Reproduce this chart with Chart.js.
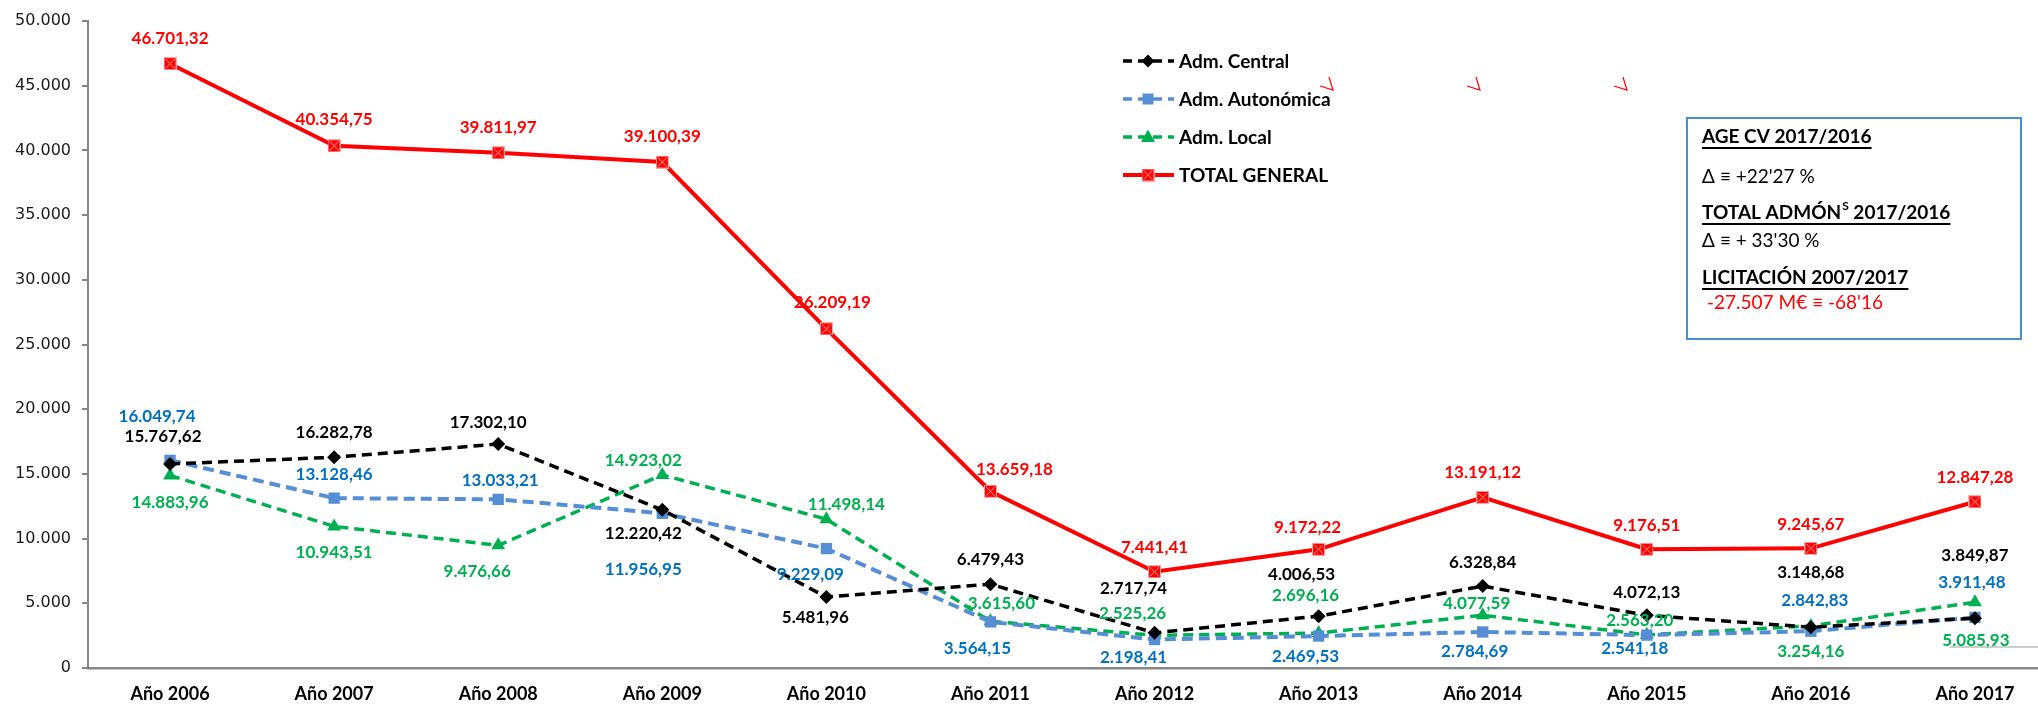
<!DOCTYPE html>
<html>
<head>
<meta charset="utf-8">
<script src="https://cdn.jsdelivr.net/npm/chart.js@4.4.1/dist/chart.umd.min.js"></script>
<style>
  html, body { margin: 0; padding: 0; overflow: hidden; background: #fff; }
  #wrap { width: 2068px; height: 705px; }
</style>
</head>
<body>
<div id="wrap"><canvas id="myChart" width="2068" height="705"></canvas></div>
<script>
// categories
var years = ["Año 2006", "Año 2007", "Año 2008", "Año 2009", "Año 2010", "Año 2011",
             "Año 2012", "Año 2013", "Año 2014", "Año 2015", "Año 2016", "Año 2017"];

// series values (M€)
var central = [15767.62, 16282.78, 17302.10, 12220.42, 5481.96, 6479.43,
               2717.74, 4006.53, 6328.84, 4072.13, 3148.68, 3849.87];
var autonomica = [16049.74, 13128.46, 13033.21, 11956.95, 9229.09, 3564.15,
                  2198.41, 2469.53, 2784.69, 2541.18, 2842.83, 3911.48];
var local = [14883.96, 10943.51, 9476.66, 14923.02, 11498.14, 3615.60,
             2525.26, 2696.16, 4077.59, 2563.20, 3254.16, 5085.93];
var total = [46701.32, 40354.75, 39811.97, 39100.39, 26209.19, 13659.18,
             7441.41, 9172.22, 13191.12, 9176.51, 9245.67, 12847.28];

var seriesNames = ["Adm. Central", "Adm. Autonómica", "Adm. Local", "TOTAL GENERAL"];

// y axis
var yMin = 0, yMax = 50000, yStep = 5000;

// where each data label sits relative to its point [dx, dy]
var offCentral = [[-7,-27],[0,-25],[-10,-22],[-19,24],[-11,20],[0,-25],[-21,-44],[-17,-42],[0,-24],[0,-23],[0,-55],[0,-63]];
var offAuton = [[-13,-44],[0,-24],[2,-19],[-19,56],[-16,26],[-13,27],[-21,18],[-13,20],[-8,20],[-12,13],[4,-31],[-3,-35]];
var offLocal = [[0,27],[0,26],[-21,26],[-19,-14],[20,-15],[11,-18],[-22,-22],[-13,-38],[-6,-12],[-7,-14],[0,26],[1,38]];
var offTotal = [[0,-25],[0,-26],[0,-25],[0,-26],[6,-26],[24,-22],[0,-24],[-11,-22],[0,-25],[0,-24],[0,-24],[0,-24]];

var labelColors = ["#000000", "#0070C0", "#00B050", "#FF0000"];

function fmt(v) {
  var s = v.toFixed(2).split(".");
  return s[0].replace(/\B(?=(\d{3})+(?!\d))/g, ".") + "," + s[1];
}
function fmtInt(v) {
  return String(Math.round(v)).replace(/\B(?=(\d{3})+(?!\d))/g, ".");
}

function makeCross() {
  var c = document.createElement("canvas");
  c.width = 13; c.height = 13;
  var g = c.getContext("2d");
  g.fillStyle = "#FF0000";
  g.fillRect(0, 0, 13, 13);
  g.strokeStyle = "#FFA6A6";
  g.lineWidth = 1;
  g.strokeRect(0.5, 0.5, 12, 12);
  g.beginPath();
  g.moveTo(2, 2); g.lineTo(11, 11);
  g.moveTo(11, 2); g.lineTo(2, 11);
  g.stroke();
  return c;
}
var crossImg = makeCross();

function drawMarker(ctx, kind, x, y, color) {
  ctx.save();
  ctx.setLineDash([]);
  ctx.fillStyle = color;
  ctx.beginPath();
  if (kind == "diamond") {
    ctx.moveTo(x, y - 6.5); ctx.lineTo(x + 6.5, y); ctx.lineTo(x, y + 6.5); ctx.lineTo(x - 6.5, y);
  } else if (kind == "square") {
    ctx.rect(x - 5.5, y - 5.5, 11, 11);
  } else if (kind == "triangle") {
    ctx.moveTo(x, y - 7.5); ctx.lineTo(x + 7, y + 5); ctx.lineTo(x - 7, y + 5);
  }
  ctx.closePath();
  ctx.fill();
  if (kind == "cross") ctx.drawImage(crossImg, x - 6.5, y - 6.5);
  ctx.restore();
}

var labelsPlugin = {
  id: "valueLabels",
  afterDatasetsDraw: function (chart) {
    var ctx = chart.ctx;
    var offs = [offCentral, offAuton, offLocal, offTotal];
    ctx.save();
    ctx.font = "bold 17px Lato";
    ctx.textAlign = "center";
    ctx.textBaseline = "middle";
    chart.data.datasets.forEach(function (ds, i) {
      var meta = chart.getDatasetMeta(i);
      ctx.fillStyle = labelColors[i];
      meta.data.forEach(function (pt, j) {
        ctx.fillText(fmt(ds.data[j]), pt.x + offs[i][j][0], pt.y + offs[i][j][1]);
      });
    });
    ctx.restore();
  }
};

var extrasPlugin = {
  id: "extras",
  afterDraw: function (chart) {
    var ctx = chart.ctx;
    ctx.save();

    // legend
    var kinds = ["diamond", "square", "triangle", "cross"];
    var cols = ["#000000", "#558ED5", "#00B050", "#FF0000"];
    var rows = [61, 99, 137, 175];
    for (var i = 0; i < 4; i++) {
      ctx.strokeStyle = cols[i];
      ctx.lineWidth = i == 3 ? 4 : 3.5;
      ctx.setLineDash(i == 3 ? [] : [9, 6]);
      ctx.beginPath();
      ctx.moveTo(1123, rows[i]);
      ctx.lineTo(1174, rows[i]);
      ctx.stroke();
      drawMarker(ctx, kinds[i], 1148, rows[i], cols[i]);
      ctx.setLineDash([]);
      ctx.fillStyle = "#000";
      ctx.font = "bold 19px Lato";
      ctx.textAlign = "left";
      ctx.textBaseline = "middle";
      ctx.fillText(seriesNames[i], 1179, rows[i] + 1);
    }

    // small red ticks
    ctx.strokeStyle = "#FF0000";
    ctx.lineWidth = 1.2;
    [1333, 1480, 1627].forEach(function (x) {
      ctx.beginPath();
      ctx.moveTo(x - 13, 86);
      ctx.lineTo(x, 90);
      ctx.lineTo(x - 4, 77);
      ctx.stroke();
    });

    // gray stub line near last labels
    ctx.strokeStyle = "#BFBFBF";
    ctx.lineWidth = 1.5;
    ctx.beginPath();
    ctx.moveTo(1950, 647);
    ctx.lineTo(2068, 647);
    ctx.stroke();

    // text box
    ctx.strokeStyle = "#4A8FD2";
    ctx.lineWidth = 2;
    ctx.strokeRect(1687, 118, 334, 221);

    ctx.textAlign = "left";
    ctx.textBaseline = "middle";
    function underl(x, y, w) {
      ctx.fillRect(x, y, w, 2);
    }
    ctx.fillStyle = "#000";
    ctx.font = "bold 19px Lato";
    var t1 = "AGE CV 2017/2016";
    ctx.fillText(t1, 1702, 137);
    underl(1702, 147, ctx.measureText(t1).width);

    ctx.font = "19px Lato";
    ctx.fillText("Δ ≡ +22'27 %", 1702, 177);

    ctx.font = "bold 19px Lato";
    var a = "TOTAL ADMÓN";
    ctx.fillText(a, 1702, 213);
    var wa = ctx.measureText(a).width;
    ctx.font = "bold 12px Lato";
    ctx.fillText("S", 1702 + wa + 1, 206);
    var ws = ctx.measureText("S").width + 1;
    ctx.font = "bold 19px Lato";
    var b = " 2017/2016";
    ctx.fillText(b, 1702 + wa + ws, 213);
    underl(1702, 223, wa + ws + ctx.measureText(b).width);

    ctx.font = "19px Lato";
    ctx.fillText("Δ ≡ + 33'30 %", 1702, 241);

    ctx.font = "bold 19px Lato";
    var t3 = "LICITACIÓN 2007/2017";
    ctx.fillText(t3, 1702, 278);
    underl(1702, 288, ctx.measureText(t3).width);

    ctx.font = "19px Lato";
    ctx.fillStyle = "#FF0000";
    ctx.fillText("-27.507 M€ ≡ -68'16", 1707, 303);

    ctx.restore();
  }
};

new Chart("myChart", {
  type: "line",
  data: {
    labels: years,
    datasets: [{
      label: seriesNames[0],
      data: central,
      borderColor: "#000000",
      backgroundColor: "#000000",
      borderWidth: 3.5,
      borderDash: [10, 6],
      pointStyle: "rectRot",
      pointRadius: 7,
      pointBorderWidth: 0,
      tension: 0
    }, {
      label: seriesNames[1],
      data: autonomica,
      borderColor: "#558ED5",
      backgroundColor: "#558ED5",
      borderWidth: 4,
      borderDash: [11, 6],
      pointStyle: "rect",
      pointRadius: 8,
      pointBorderWidth: 0,
      tension: 0
    }, {
      label: seriesNames[2],
      data: local,
      borderColor: "#00B050",
      backgroundColor: "#00B050",
      borderWidth: 3.5,
      borderDash: [10, 6],
      pointStyle: "triangle",
      pointRadius: 8,
      pointBorderWidth: 0,
      tension: 0
    }, {
      label: seriesNames[3],
      data: total,
      borderColor: "#FF0000",
      backgroundColor: "#FF0000",
      borderWidth: 4,
      pointStyle: crossImg,
      pointRadius: 7,
      tension: 0
    }]
  },
  options: {
    responsive: false,
    animation: false,
    events: [],
    layout: { padding: { top: 21, left: 0, right: 0, bottom: 0 } },
    plugins: {
      legend: { display: false },
      title: { display: false },
      tooltip: { enabled: false }
    },
    scales: {
      x: {
        offset: true,
        grid: { display: false, drawTicks: false },
        border: { display: true, color: "#868686", width: 2.5 },
        ticks: { color: "#000", font: { family: "Lato", size: 18, weight: "bold" }, padding: 15, maxRotation: 0, autoSkip: false },
        afterFit: function (scale) { scale.height = 37; }
      },
      y: {
        min: yMin,
        max: yMax,
        grid: { display: true, drawOnChartArea: false, drawTicks: true, tickLength: 6, color: "#868686", lineWidth: 2 },
        border: { display: true, color: "#868686", width: 2 },
        ticks: {
          stepSize: yStep,
          color: "#1a1a1a",
          font: { family: "DejaVu Sans", size: 16 },
          padding: 11,
          callback: function (v) { return fmtInt(v); }
        },
        afterFit: function (scale) { scale.width = 88; }
      }
    }
  },
  plugins: [labelsPlugin, extrasPlugin]
});
</script>
</body>
</html>
